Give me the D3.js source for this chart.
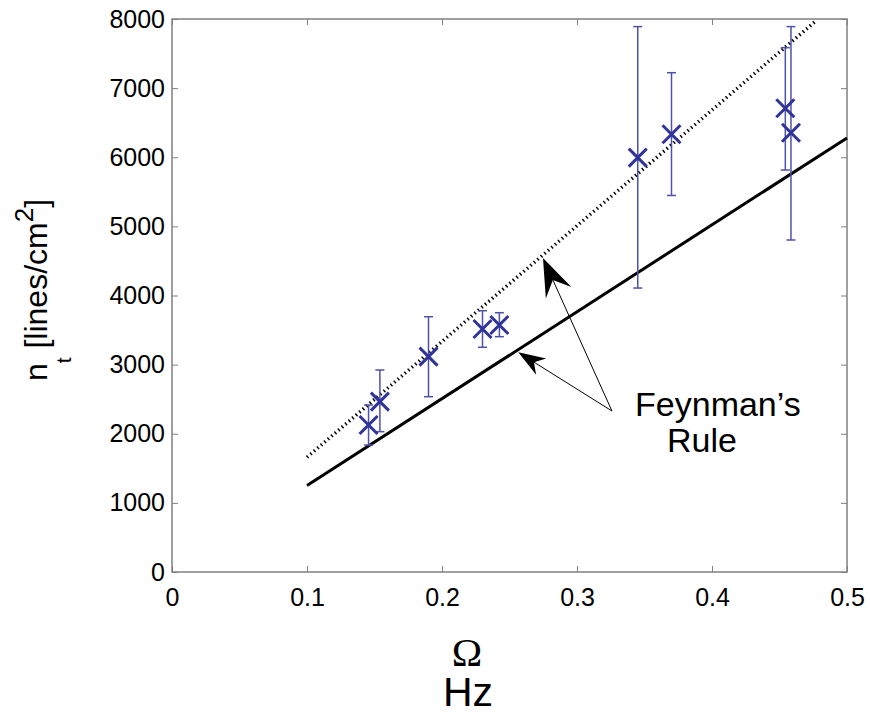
<!DOCTYPE html>
<html>
<head>
<meta charset="utf-8">
<script src="https://cdn.jsdelivr.net/npm/d3@7"></script>
<style>
  body { margin: 0; background: #fff; }
  svg { display: block; font-family: Arial, "Liberation Sans", sans-serif; }
</style>
</head>
<body>
<div id="chart"></div>
<script>
// measured data
var omega   = [0.1456, 0.154, 0.190, 0.230, 0.2425, 0.345, 0.370, 0.4543, 0.4585];
var nt      = [2127, 2464, 3115, 3515, 3573, 5994, 6332, 6708, 6355];
var errLow  = [1837, 2030, 2536, 3251, 3404, 4108, 5447, 5815, 4803];
var errHigh = [2416, 2922, 3693, 3780, 3751, 7890, 7223, 7585, 7890];

// Feynman's rule lines (endpoints)
var ruleSolid  = [[0.1, 1250], [0.5, 6280]];
var ruleDotted = [[0.1, 1660], [0.4763, 7961]];

var xTicks = [0, 0.1, 0.2, 0.3, 0.4, 0.5];
var yTicks = [0, 1000, 2000, 3000, 4000, 5000, 6000, 7000, 8000];

// annotation: arrows from text to the two lines
var arrowTail = [0.3259, 2329];
var arrowTips = [[0.2748, 4542], [0.2565, 3178]];

var margin = {top: 19, right: 23, bottom: 143, left: 172},
    W = 870, H = 715,
    width = W - margin.left - margin.right,
    height = H - margin.top - margin.bottom;

var x = d3.scaleLinear().domain([0, 0.5]).range([0, width]);
var y = d3.scaleLinear().domain([0, 8000]).range([height, 0]);

var svg = d3.select("#chart").append("svg")
    .attr("width", W)
    .attr("height", H);

svg.append("rect").attr("width", W).attr("height", H).attr("fill", "#fff");

var g = svg.append("g")
    .attr("transform", "translate(" + margin.left + "," + margin.top + ")");

var axisColor = "#808080";

// axes: ticks inward on all four sides
function styleAxis(sel) {
  sel.select(".domain").remove();
  sel.selectAll(".tick line").attr("stroke", axisColor).attr("stroke-width", 1);
  sel.selectAll(".tick text").attr("fill", "#000").style("font-size", "25px");
}

g.append("g")
    .attr("transform", "translate(0," + height + ")")
    .call(d3.axisBottom(x).tickValues(xTicks).tickSize(-6).tickPadding(16)
        .tickFormat(function(d) { return d === 0 ? "0" : d3.format(".1f")(d); }))
    .call(styleAxis);

g.append("g")
    .call(d3.axisTop(x).tickValues(xTicks).tickSize(-6).tickFormat(""))
    .call(styleAxis);

g.append("g")
    .call(d3.axisLeft(y).tickValues(yTicks).tickSize(-6).tickPadding(7)
        .tickFormat(d3.format("d")))
    .call(styleAxis);

g.append("g")
    .attr("transform", "translate(" + width + ",0)")
    .call(d3.axisRight(y).tickValues(yTicks).tickSize(-6).tickFormat(""))
    .call(styleAxis);

// box
g.append("rect")
    .attr("width", width).attr("height", height)
    .attr("fill", "none").attr("stroke", axisColor).attr("stroke-width", 1.5);

var line = d3.line()
    .x(function(d) { return x(d[0]); })
    .y(function(d) { return y(d[1]); });

g.append("path")
    .attr("d", line(ruleSolid))
    .attr("fill", "none").attr("stroke", "#000").attr("stroke-width", 3);

g.append("path")
    .attr("d", line(ruleDotted))
    .attr("fill", "none").attr("stroke", "#000").attr("stroke-width", 3.5)
    .attr("stroke-dasharray", "1.4,3.2");

// error bars
var errColor = "#4d52a8", capW = 4.5;
var eb = g.selectAll(".err").data(omega).enter().append("g").attr("class", "err");
eb.append("line")
    .attr("x1", function(d) { return x(d); }).attr("x2", function(d) { return x(d); })
    .attr("y1", function(d, i) { return y(errLow[i]); })
    .attr("y2", function(d, i) { return y(errHigh[i]); })
    .attr("stroke", errColor).attr("stroke-width", 1.5);
eb.append("line")
    .attr("x1", function(d) { return x(d) - capW; }).attr("x2", function(d) { return x(d) + capW; })
    .attr("y1", function(d, i) { return y(errLow[i]); })
    .attr("y2", function(d, i) { return y(errLow[i]); })
    .attr("stroke", errColor).attr("stroke-width", 1.5);
eb.append("line")
    .attr("x1", function(d) { return x(d) - capW; }).attr("x2", function(d) { return x(d) + capW; })
    .attr("y1", function(d, i) { return y(errHigh[i]); })
    .attr("y2", function(d, i) { return y(errHigh[i]); })
    .attr("stroke", errColor).attr("stroke-width", 1.5);

// x markers
var ms = 9;
g.selectAll(".pt").data(omega).enter().append("path")
    .attr("class", "pt")
    .attr("d", function(d, i) {
      var cx = x(d), cy = y(nt[i]);
      return "M" + (cx - ms) + "," + (cy - ms) + "L" + (cx + ms) + "," + (cy + ms) +
             "M" + (cx - ms) + "," + (cy + ms) + "L" + (cx + ms) + "," + (cy - ms);
    })
    .attr("stroke", "#30349a").attr("stroke-width", 3).attr("fill", "none");

// arrows (notched heads)
var heads = [{len: 38, half: 14, notch: 24}, {len: 27, half: 9.5, notch: 18.5}];
arrowTips.forEach(function(tip, i) {
  var tx = x(arrowTail[0]), ty = y(arrowTail[1]);
  var px = x(tip[0]), py = y(tip[1]);
  var dx = tx - px, dy = ty - py, L = Math.sqrt(dx * dx + dy * dy);
  var ux = dx / L, uy = dy / L, nx = -uy, ny = ux;
  var h = heads[i];
  g.append("line")
      .attr("x1", tx).attr("y1", ty)
      .attr("x2", px + ux * h.notch).attr("y2", py + uy * h.notch)
      .attr("stroke", "#000").attr("stroke-width", 1);
  var bx = px + ux * h.len, by = py + uy * h.len;
  var pts = [[px, py],
             [bx + nx * h.half, by + ny * h.half],
             [px + ux * h.notch, py + uy * h.notch],
             [bx - nx * h.half, by - ny * h.half]];
  g.append("path")
      .attr("d", "M" + pts.map(function(p) { return p[0] + "," + p[1]; }).join("L") + "Z")
      .attr("fill", "#000");
});

// annotation text
g.append("text")
    .attr("x", x(0.343)).attr("y", y(2252))
    .style("font-size", "34px")
    .text("Feynman\u2019s");
g.append("text")
    .attr("x", x(0.3667)).attr("y", y(1740))
    .style("font-size", "34px")
    .text("Rule");

// axis titles
var yl = svg.append("text")
    .attr("transform", "translate(47,290) rotate(-90)")
    .attr("text-anchor", "middle")
    .style("font-size", "32px");
yl.append("tspan").text("n");
yl.append("tspan").attr("dy", 24).style("font-size", "21px").text("t");
yl.append("tspan").attr("dy", -24).text(" [lines/cm");
yl.append("tspan").attr("dy", -14).style("font-size", "26px").text("2");
yl.append("tspan").attr("dy", 14).text("]");

svg.append("text")
    .attr("x", 467).attr("y", 666)
    .attr("text-anchor", "middle")
    .style("font-family", "'Liberation Serif', 'Times New Roman', serif")
    .style("font-size", "41px")
    .text("\u03A9");
svg.append("text")
    .attr("x", 468).attr("y", 706)
    .attr("text-anchor", "middle")
    .style("font-size", "41px")
    .text("Hz");
</script>
</body>
</html>
